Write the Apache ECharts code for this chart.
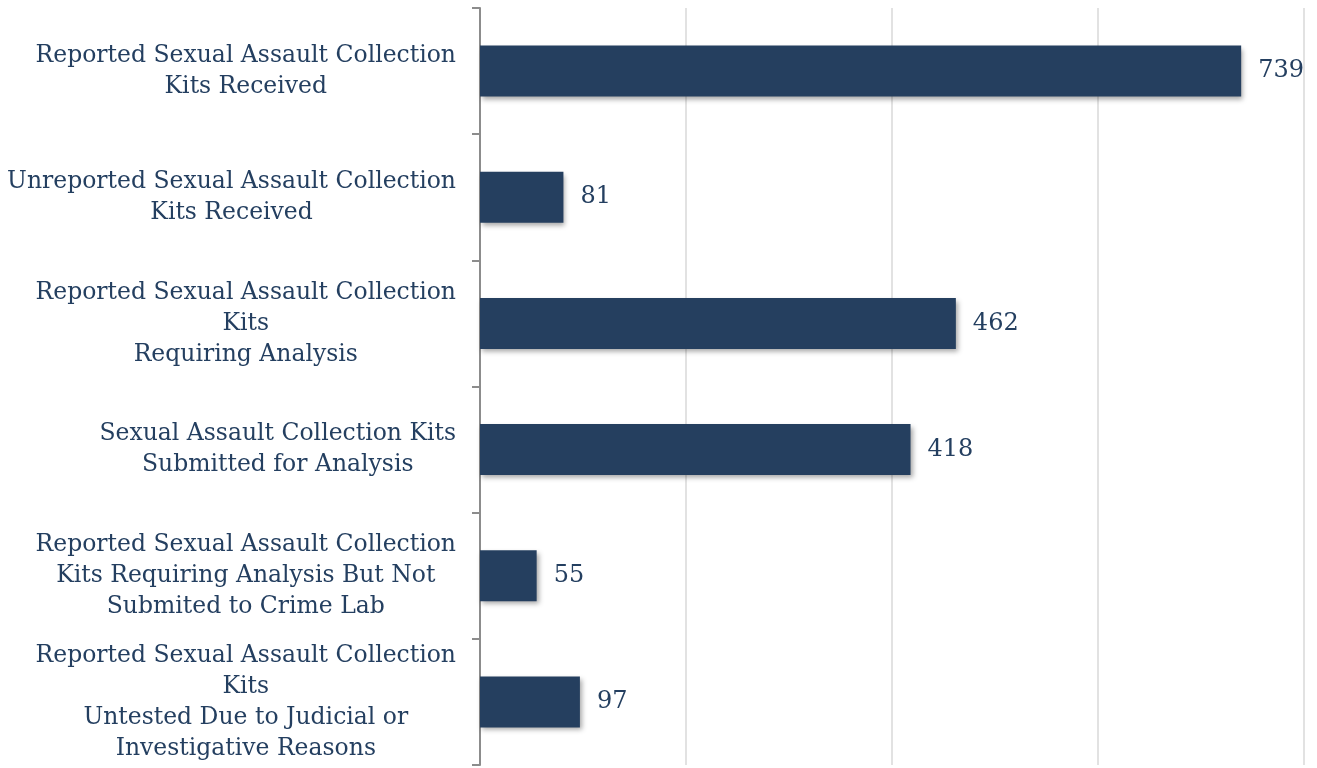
<!DOCTYPE html>
<html>
<head>
<meta charset="utf-8">
<script src="https://cdn.jsdelivr.net/npm/echarts@6/dist/echarts.min.js"></script>
<style>
  html, body { margin: 0; padding: 0; background: #fff; }
  #chart { width: 1317px; height: 768px; }
</style>
</head>
<body>
<div id="chart"></div>
<script>
// categories, top to bottom
const categories = [
  'Reported Sexual Assault Collection\nKits Received',
  'Unreported Sexual Assault Collection\nKits Received',
  'Reported Sexual Assault Collection\nKits\nRequiring Analysis',
  'Sexual Assault Collection Kits\nSubmitted for Analysis',
  'Reported Sexual Assault Collection\nKits Requiring Analysis But Not\nSubmited to Crime Lab',
  'Reported Sexual Assault Collection\nKits\nUntested Due to Judicial or\nInvestigative Reasons'
]
const kitCounts = [739, 81, 462, 418, 55, 97]

const navy = '#253f5f'
const textColor = '#243f60'
const serif = '"DejaVu Serif", "Liberation Serif", serif'

const chart = echarts.init(document.getElementById('chart'))

chart.setOption({
  backgroundColor: '#fff',
  animation: false,
  grid: {
    left: 480,
    right: 13,
    top: 8,
    bottom: 3
  },
  xAxis: {
    type: 'value',
    min: 0,
    max: 800,
    interval: 200,
    axisLabel: { show: false },
    axisLine: { show: false },
    axisTick: { show: false },
    splitLine: { lineStyle: { color: '#d9d9d9', width: 1.5 } }
  },
  yAxis: {
    type: 'category',
    inverse: true,
    data: categories,
    axisLine: { show: true, lineStyle: { color: '#8c8c8c', width: 2 } },
    axisTick: { show: true, length: 8, lineStyle: { color: '#8c8c8c', width: 2 } },
    axisLabel: {
      margin: 24,
      align: 'right',
      // each line centred inside its own label block
      formatter: (v) => v.split('\n').map(l => '{c|' + l + '}').join('\n'),
      rich: {
        c: {
          align: 'center',
          fontFamily: serif,
          fontSize: 23.5,
          lineHeight: 31,
          color: textColor
        }
      }
    }
  },
  series: [
    {
      type: 'bar',
      data: kitCounts,
      barWidth: 51,
      itemStyle: {
        color: navy,
        shadowColor: 'rgba(0, 0, 0, 0.35)',
        shadowBlur: 5,
        shadowOffsetX: 2,
        shadowOffsetY: 3
      },
      label: {
        show: true,
        position: 'right',
        distance: 17,
        fontFamily: serif,
        fontSize: 24,
        color: textColor
      }
    }
  ]
})
</script>
</body>
</html>
